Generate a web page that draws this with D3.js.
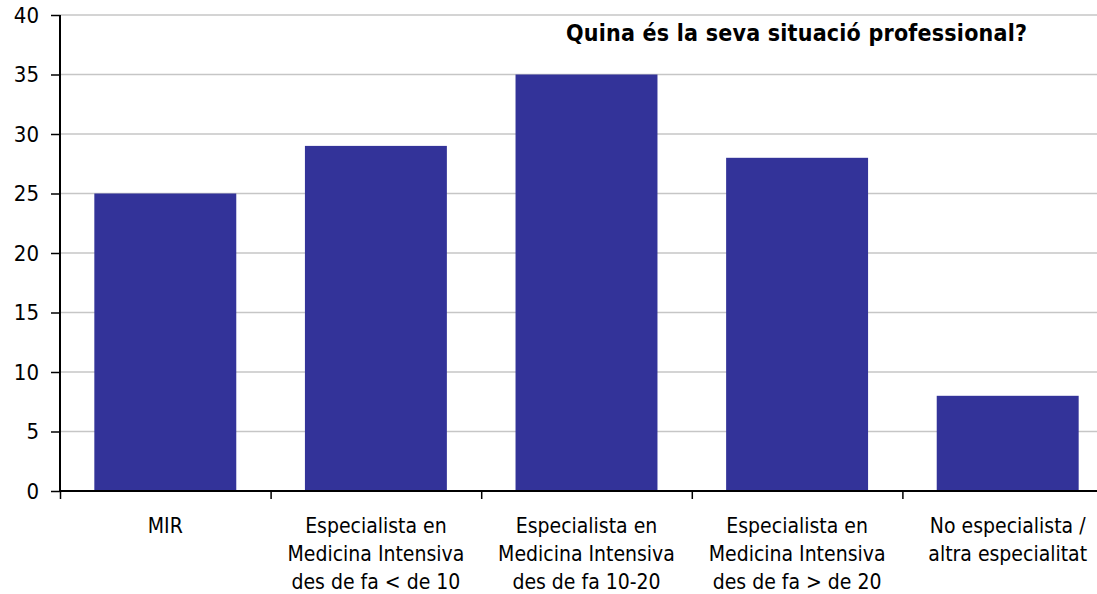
<!DOCTYPE html>
<html>
<head>
<meta charset="utf-8">
<script src="https://cdn.jsdelivr.net/npm/d3@7"></script>
<style>
  body { margin: 0; background: #fff; }
  svg { display: block; }
  text { font-family: "DejaVu Sans Condensed", "DejaVu Sans", sans-serif; fill: #000; }
</style>
</head>
<body>
<div id="chart"></div>
<script>
const categories = [
  ["MIR"],
  ["Especialista en", "Medicina Intensiva", "des de fa < de 10"],
  ["Especialista en", "Medicina Intensiva", "des de fa 10-20"],
  ["Especialista en", "Medicina Intensiva", "des de fa > de 20"],
  ["No especialista /", "altra especialitat"]
];
const values = [25, 29, 35, 28, 8];
const yTicks = [0, 5, 10, 15, 20, 25, 30, 35, 40];
const title = "Quina és la seva situació professional?";

const W = 1097, H = 594;
const plotLeft = 60, plotTop = 15, plotBottom = 491;
const catW = 210.6;
const plotRight = plotLeft + catW * categories.length; // runs past the picture edge

const svg = d3.select("#chart").append("svg")
  .attr("width", W).attr("height", H);

const y = d3.scaleLinear().domain([0, 40]).range([plotBottom, plotTop]);
const x = d3.scaleBand()
  .domain(d3.range(categories.length))
  .range([plotLeft, plotRight])
  .paddingInner(0.326).paddingOuter(0.163);
const xb = d3.scaleLinear().domain([0, categories.length]).range([plotLeft, plotRight]);

// gridlines
svg.append("g")
  .selectAll("line")
  .data(yTicks.filter(d => d > 0))
  .join("line")
  .attr("x1", plotLeft).attr("x2", W)
  .attr("y1", d => y(d)).attr("y2", d => y(d))
  .attr("stroke", "#c6c6c6").attr("stroke-width", 1.5);

// bars
svg.append("g")
  .selectAll("rect")
  .data(values)
  .join("rect")
  .attr("x", (d, i) => x(i))
  .attr("y", d => y(d))
  .attr("width", x.bandwidth())
  .attr("height", d => y(0) - y(d))
  .attr("fill", "#333399");

// y axis
const yAxis = svg.append("g")
  .attr("transform", `translate(${plotLeft},0)`)
  .call(d3.axisLeft(y).tickValues(yTicks).tickSize(9).tickPadding(12));
yAxis.select(".domain").attr("stroke", "#000").attr("stroke-width", 2)
  .attr("d", `M0,${plotTop}V${plotBottom}`);
yAxis.selectAll(".tick line").attr("stroke", "#000").attr("stroke-width", 1.5);
yAxis.selectAll("text").style("font-size", "22px").attr("fill", "#000");

// x axis, ticks on category boundaries
const xAxis = svg.append("g")
  .attr("transform", `translate(0,${plotBottom})`)
  .call(d3.axisBottom(xb).tickValues(d3.range(categories.length + 1)).tickFormat("").tickSize(8));
xAxis.select(".domain").attr("stroke", "#000").attr("stroke-width", 2)
  .attr("d", `M${plotLeft},0H${plotRight}`);
xAxis.selectAll(".tick line").attr("stroke", "#000").attr("stroke-width", 1.5);

// category labels
const lab = svg.append("g").selectAll("text")
  .data(categories)
  .join("text")
  .attr("text-anchor", "middle")
  .style("font-size", "21px")
  .attr("transform", (d, i) => `translate(${x(i) + x.bandwidth() / 2},533)`);
lab.selectAll("tspan")
  .data(d => d)
  .join("tspan")
  .attr("x", 0)
  .attr("y", (d, i) => i * 28)
  .text(d => d);

// title
svg.append("text")
  .attr("x", 566).attr("y", 41)
  .attr("textLength", 461)
  .style("font-size", "23px").style("font-weight", "bold")
  .text(title);
</script>
</body>
</html>
